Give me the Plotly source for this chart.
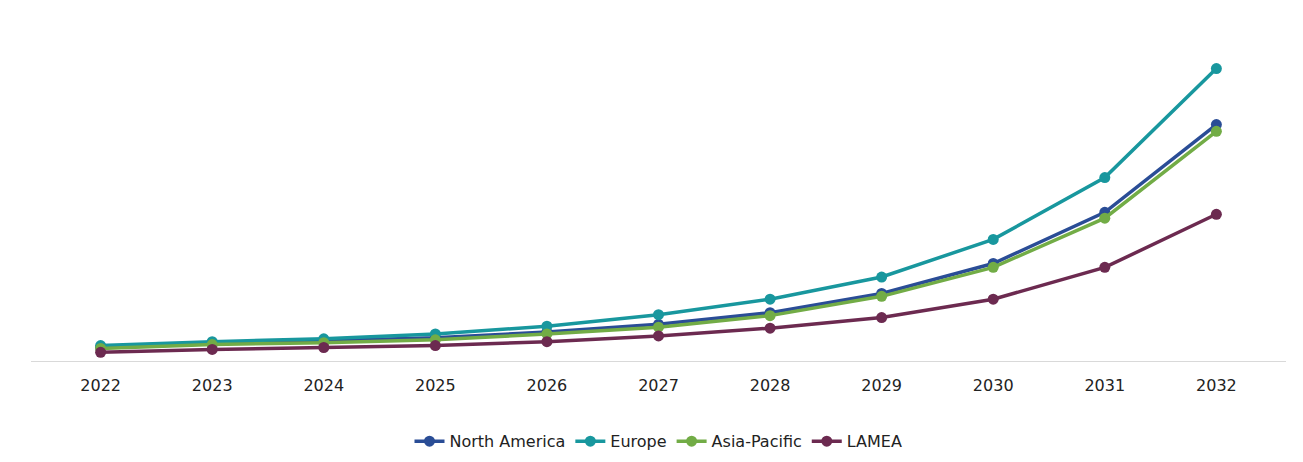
import plotly.graph_objects as go

years = ["2022", "2023", "2024", "2025", "2026", "2027", "2028", "2029", "2030", "2031", "2032"]
north_america = [14, 18, 21, 24, 30, 38, 50, 70, 101, 154, 245]
europe = [16, 20, 23, 28, 36, 48, 64, 87, 126, 190, 303]
asia_pacific = [13, 17, 19, 22, 28, 35, 47, 67, 97, 148, 238]
lamea = [9, 12, 14, 16, 20, 26, 34, 45, 64, 97, 152]

series = [
    ("North America", north_america, "#2a4d96"),
    ("Europe", europe, "#18979e"),
    ("Asia-Pacific", asia_pacific, "#72ac46"),
    ("LAMEA", lamea, "#6c2a50"),
]

fig = go.Figure()
for name, vals, color in series:
    fig.add_trace(go.Scatter(x=years, y=vals, name=name, mode="lines+markers",
                             line=dict(color=color, width=3.5),
                             marker=dict(size=11, color=color)))

fig.update_layout(
    width=1303, height=462,
    margin=dict(l=23, r=25, t=20, b=97),
    paper_bgcolor="white", plot_bgcolor="white",
    font=dict(family="DejaVu Sans", size=16, color="#222"),
    showlegend=True,
    legend=dict(orientation="h", x=0.5, xanchor="center", y=-0.19, yanchor="top",
                font=dict(size=16)),
)
fig.update_xaxes(type="category", showgrid=False, showline=True, linecolor="#d9d9d9",
                 linewidth=1, ticks="", ticklabelstandoff=10)
fig.update_yaxes(range=[0, 345], visible=False)

fig.write_html("out.html")
